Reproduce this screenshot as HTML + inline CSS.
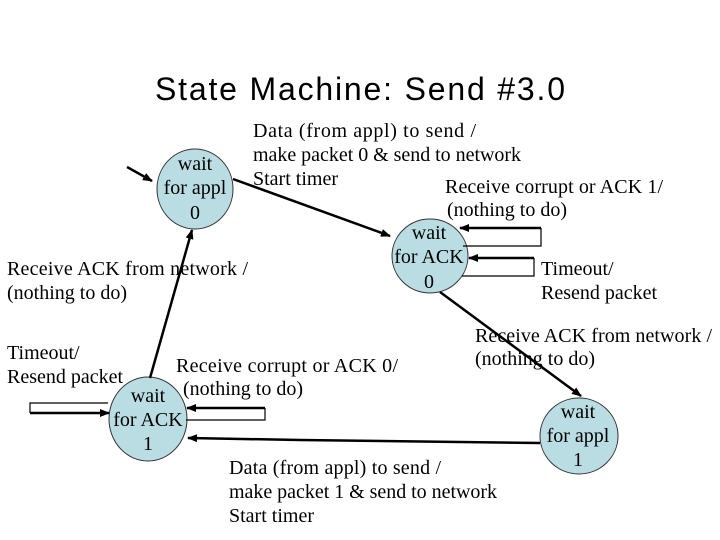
<!DOCTYPE html>
<html><head><meta charset="utf-8"><style>
html,body{margin:0;padding:0;background:#fff;}
svg{display:block;}
.t{font-family:"Liberation Serif",serif;font-size:20px;fill:#000;}
.c{text-anchor:middle;}
</style></head><body>
<svg width="720" height="540" viewBox="0 0 720 540" xmlns="http://www.w3.org/2000/svg">
<defs><marker id="a" markerWidth="10" markerHeight="8" refX="9" refY="4" orient="auto" markerUnits="userSpaceOnUse"><path d="M0,0 L10,4 L0,8 z" fill="#000"/></marker></defs>
<text x="155" y="100" font-family="Liberation Sans, sans-serif" font-size="32" textLength="410">State Machine: Send #3.0</text>

<g fill="#b9dde2" stroke="#333" stroke-width="1">
<ellipse cx="195" cy="189" rx="38" ry="40"/>
<ellipse cx="430" cy="256" rx="38" ry="37"/>
<ellipse cx="148" cy="419" rx="39" ry="42"/>
<ellipse cx="579" cy="436" rx="39" ry="38"/>
</g>

<g stroke="#000" stroke-width="2.5" fill="none">
<line x1="127" y1="167" x2="152" y2="181" marker-end="url(#a)"/>
<line x1="233" y1="179" x2="390" y2="236" marker-end="url(#a)"/>
<line x1="150" y1="378" x2="192" y2="230" marker-end="url(#a)"/>
<line x1="440" y1="292" x2="581" y2="396" marker-end="url(#a)"/>
<polyline points="540,443 300,440 188,438" marker-end="url(#a)"/>
</g>
<g stroke="#000" stroke-width="1.2" fill="none">
<polyline points="463,246 541,246 541,228"/>
<polyline points="462,276 534,276 534,258"/>
<polyline points="108,403 30,403 30,413"/>
<polyline points="186,420 265,420 265,408"/>
</g>
<g stroke="#000" stroke-width="2.5" fill="none">
<line x1="541" y1="228" x2="460" y2="228" marker-end="url(#a)"/>
<line x1="534" y1="258" x2="469" y2="258" marker-end="url(#a)"/>
<line x1="30" y1="413" x2="109" y2="413" marker-end="url(#a)"/>
<line x1="265" y1="408" x2="187" y2="408" marker-end="url(#a)"/>
</g>

<g class="t">
<text x="253" y="137" textLength="223">Data (from appl) to send /</text>
<text x="253" y="161" textLength="268">make packet 0 &amp; send to network</text>
<text x="253" y="185">Start timer</text>
<text x="445" y="193" textLength="218">Receive corrupt or ACK 1/</text>
<text x="447" y="216">(nothing to do)</text>
<text class="c" x="195" y="170">wait</text>
<text class="c" x="195" y="194">for appl</text>
<text class="c" x="195" y="219">0</text>
<text class="c" x="429" y="239">wait</text>
<text class="c" x="429" y="263">for ACK</text>
<text class="c" x="429" y="288">0</text>
<text x="541" y="275">Timeout/</text>
<text x="541" y="299">Resend packet</text>
<text x="7" y="275" textLength="241">Receive ACK from network /</text>
<text x="7" y="299">(nothing to do)</text>
<text x="475" y="342" textLength="237">Receive ACK from network /</text>
<text x="475" y="365">(nothing to do)</text>
<text x="7" y="359">Timeout/</text>
<text x="7" y="383">Resend packet</text>
<text x="176" y="372" textLength="222">Receive corrupt or ACK 0/</text>
<text x="183" y="395">(nothing to do)</text>
<text class="c" x="148" y="402">wait</text>
<text class="c" x="148" y="426">for ACK</text>
<text class="c" x="148" y="450">1</text>
<text class="c" x="578" y="418">wait</text>
<text class="c" x="578" y="442">for appl</text>
<text class="c" x="578" y="466">1</text>
<text x="229" y="474" textLength="212">Data (from appl) to send /</text>
<text x="229" y="498" textLength="268">make packet 1 &amp; send to network</text>
<text x="229" y="522">Start timer</text>
</g>
</svg>
</body></html>
